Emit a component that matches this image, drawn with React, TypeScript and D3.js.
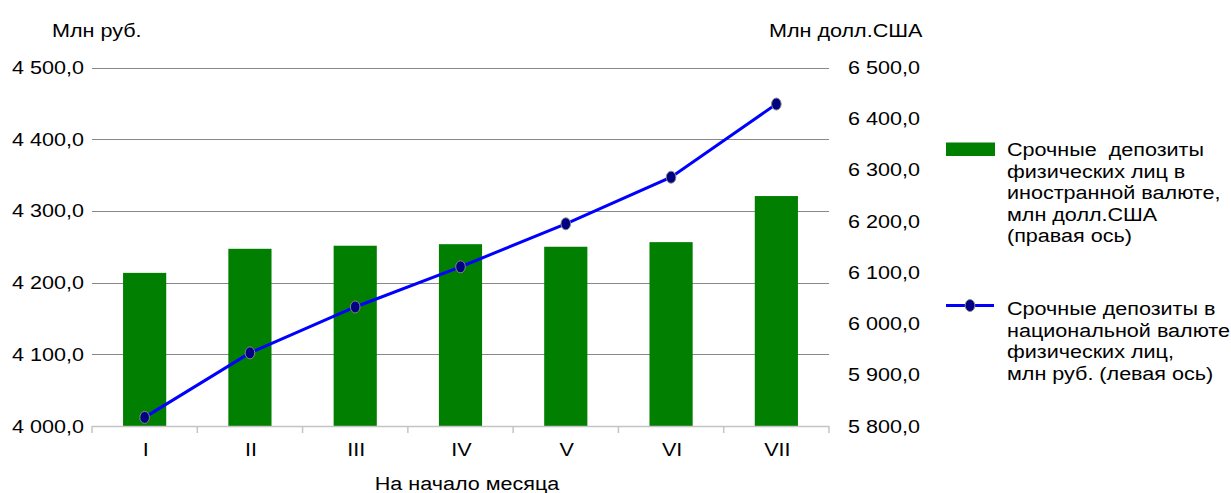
import * as d3 from 'd3';
import { useEffect, useRef } from 'react';

// months (roman numerals)
const months = ['I', 'II', 'III', 'IV', 'V', 'VI', 'VII'];
// term deposits in foreign currency, mln USD (right axis)
const foreignDeposits = [6099, 6146, 6152, 6155, 6150, 6159, 6249];
// term deposits in national currency, mln rub (left axis)
const nationalDeposits = [4012, 4102, 4166, 4222, 4282, 4347, 4449];
const leftTicks = [4000, 4100, 4200, 4300, 4400, 4500];
const rightTicks = [5800, 5900, 6000, 6100, 6200, 6300, 6400, 6500];

const legendBars = [
  'Срочные  депозиты',
  'физических лиц в',
  'иностранной валюте,',
  'млн долл.США',
  '(правая ось)',
];
const legendLine = [
  'Срочные депозиты в',
  'национальной валюте',
  'физических лиц,',
  'млн руб. (левая ось)',
];

const fmt = (v: number) => d3.format(',.1f')(v).replace(',', ' ').replace('.', ',');

export default function App() {
  const ref = useRef<SVGSVGElement>(null);

  useEffect(() => {
    if (!ref.current) return;
    const svg = d3.select(ref.current);
    svg.selectAll('*').remove();
    const font = '"Liberation Sans", Arial, sans-serif';
    const stretch = 1.135;

    // text is a bit wider than normal in the original, so stretch it horizontally
    const label = (x: number, y: number, txt: string, anchor = 'start') => {
      svg.append('text')
        .attr('transform', `translate(${x},${y}) scale(${stretch},1)`)
        .attr('text-anchor', anchor)
        .attr('font-family', font).attr('font-size', 19)
        .style('white-space', 'pre')
        .text(txt);
    };

    const left = 92, right = 829, top = 67.5, bottom = 426;

    const x = d3.scaleBand().domain(months).range([left, right]);
    const yL = d3.scaleLinear().domain([4000, 4500]).range([bottom, top]);
    const yR = d3.scaleLinear().domain([5800, 6500]).range([bottom, top]);

    // gridlines
    svg.append('g').selectAll('line').data(leftTicks.slice(1)).enter().append('line')
      .attr('x1', left).attr('x2', right)
      .attr('y1', d => Math.round(yL(d)) + 0.5).attr('y2', d => Math.round(yL(d)) + 0.5)
      .attr('stroke', '#888').attr('stroke-width', 1);

    // bars
    const bw = x.bandwidth() * 0.41;
    svg.append('g').selectAll('rect').data(foreignDeposits).enter().append('rect')
      .attr('x', (d, i) => x(months[i])! + (x.bandwidth() - bw) / 2)
      .attr('width', bw)
      .attr('y', d => yR(d))
      .attr('height', d => bottom - yR(d))
      .attr('fill', '#007f00');

    // bottom axis
    svg.append('line').attr('x1', left).attr('x2', right)
      .attr('y1', bottom + 0.5).attr('y2', bottom + 0.5)
      .attr('stroke', '#c4c4c4').attr('stroke-width', 1.5);
    const bounds = months.map(m => x(m)!).concat([right]);
    svg.append('g').selectAll('line').data(bounds).enter().append('line')
      .attr('x1', d => d).attr('x2', d => d)
      .attr('y1', bottom).attr('y2', bottom + 7)
      .attr('stroke', '#c4c4c4').attr('stroke-width', 1.5);

    // line series
    const line = d3.line<number>()
      .x((d, i) => x(months[i])! + x.bandwidth() / 2)
      .y(d => yL(d));
    svg.append('path').datum(nationalDeposits)
      .attr('d', line)
      .attr('fill', 'none').attr('stroke', '#0000ff').attr('stroke-width', 3);
    svg.append('g').selectAll('ellipse').data(nationalDeposits).enter().append('ellipse')
      .attr('cx', (d, i) => x(months[i])! + x.bandwidth() / 2)
      .attr('cy', d => yL(d))
      .attr('rx', 4.8).attr('ry', 6)
      .attr('fill', '#000080').attr('stroke', '#888').attr('stroke-width', 1);

    // tick labels
    leftTicks.forEach(t => label(84, yL(t) + 6.5, fmt(t), 'end'));
    rightTicks.forEach(t => label(848, yR(t) + 6.5, fmt(t)));
    months.forEach(m => label(x(m)! + x.bandwidth() / 2 + 1, 456, m, 'middle'));

    // axis titles
    label(52, 37, 'Млн руб.');
    label(769, 37, 'Млн долл.США');
    label(467, 490, 'На начало месяца', 'middle');

    // legend
    svg.append('rect').attr('x', 946).attr('y', 142.5).attr('width', 49).attr('height', 13.5)
      .attr('fill', '#007f00');
    legendBars.forEach((t, i) => label(1007, 156 + i * 21.6, t));

    svg.append('line').attr('x1', 946).attr('x2', 994).attr('y1', 305.5).attr('y2', 305.5)
      .attr('stroke', '#0000ff').attr('stroke-width', 3);
    svg.append('ellipse').attr('cx', 970).attr('cy', 305.5).attr('rx', 4.8).attr('ry', 6)
      .attr('fill', '#000080').attr('stroke', '#888').attr('stroke-width', 1);
    legendLine.forEach((t, i) => label(1007, 315 + i * 21.6, t));
  }, []);

  return (
    <svg ref={ref} width={1231} height={493}
      style={{ position: 'absolute', left: 0, top: 0, background: '#fff' }} />
  );
}
